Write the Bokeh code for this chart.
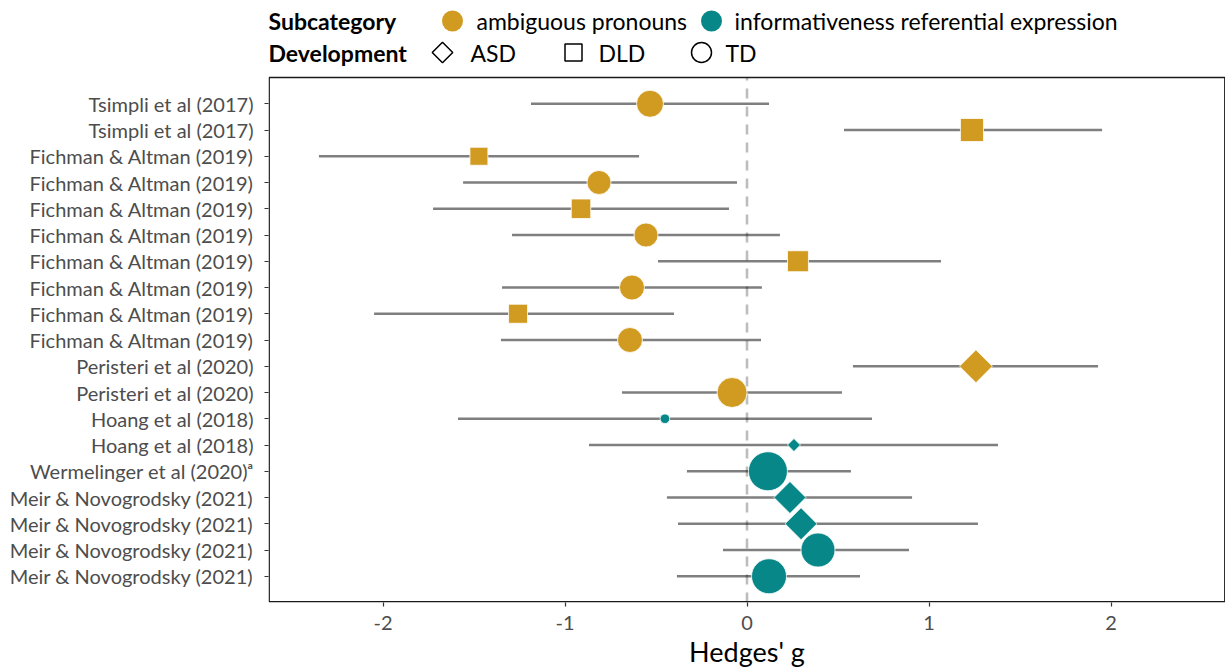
import numpy as np
from bokeh.plotting import figure
from bokeh.models import ColumnDataSource, FixedTicker, BoxAnnotation, Range1d
from bokeh.core.properties import value
from bokeh.embed import file_html
from bokeh.resources import INLINE

# ---------------- data (top row first) ----------------
studies = [
    "Tsimpli et al (2017)", "Tsimpli et al (2017)",
    "Fichman & Altman (2019)", "Fichman & Altman (2019)", "Fichman & Altman (2019)",
    "Fichman & Altman (2019)", "Fichman & Altman (2019)", "Fichman & Altman (2019)",
    "Fichman & Altman (2019)", "Fichman & Altman (2019)",
    "Peristeri et al (2020)", "Peristeri et al (2020)",
    "Hoang et al (2018)", "Hoang et al (2018)",
    "Wermelinger et al (2020)\u1d43",
    "Meir & Novogrodsky (2021)", "Meir & Novogrodsky (2021)",
    "Meir & Novogrodsky (2021)", "Meir & Novogrodsky (2021)",
]
subcategory = ["ambiguous pronouns"] * 12 + ["informativeness referential expression"] * 7
development = ["TD", "DLD", "DLD", "TD", "DLD", "TD", "DLD", "TD", "DLD", "TD",
               "ASD", "TD", "TD", "ASD", "TD", "ASD", "ASD", "TD", "TD"]
hedges_g = [-0.533, 1.236, -1.473, -0.813, -0.912, -0.555, 0.280, -0.632, -1.258, -0.643,
            1.258, -0.082, -0.451, 0.258, 0.115, 0.236, 0.297, 0.390, 0.121]
ci_low = [-1.187, 0.533, -2.352, -1.560, -1.725, -1.291, -0.489, -1.346, -2.049, -1.352,
          0.582, -0.687, -1.588, -0.868, -0.330, -0.440, -0.379, -0.132, -0.385]
ci_high = [0.121, 1.951, -0.593, -0.055, -0.099, 0.181, 1.066, 0.082, -0.401, 0.077,
           1.929, 0.522, 0.687, 1.379, 0.571, 0.907, 1.269, 0.890, 0.621]
weight = [18.2, 16.9, 10.3, 14.4, 12.1, 14.4, 14.0, 15.6, 11.5, 15.6,
          17.3, 22.5, 2.3, 2.7, 38.0, 16.3, 16.3, 28.9, 30.6]
x_ticks = [-2, -1, 0, 1, 2]
x_tick_labels = ["-2", "-1", "0", "1", "2"]
legend_subcats = ["ambiguous pronouns", "informativeness referential expression"]
legend_devs = ["ASD", "DLD", "TD"]

# ---------------- styles ----------------
GOLD = "#D09B20"
TEAL = "#078787"
sub_colors = {"ambiguous pronouns": GOLD, "informativeness referential expression": TEAL}
FONT = "Lato"

n = len(studies)
ypos = list(range(n, 0, -1))

# marker geometry (R pch 21/22/23 conventions)
def diam(w):
    return np.sqrt(40.0 * w)

markers, sizes, angles, colors = [], [], [], []
for d, w, s in zip(development, weight, subcategory):
    D = diam(w)
    colors.append(sub_colors[s])
    if d == "TD":
        markers.append("circle"); sizes.append(D); angles.append(0.0)
    elif d == "DLD":
        markers.append("square"); sizes.append(0.886 * D); angles.append(0.0)
    else:
        markers.append("square"); sizes.append(0.886 * D); angles.append(np.pi / 4)

src = ColumnDataSource(dict(y=ypos, g=hedges_g, lo=ci_low, hi=ci_high,
                            marker=markers, size=sizes, angle=angles, color=colors))

# ---------------- layout ----------------
FRAME_W, FRAME_H = 957, 595
PX_PER_UNIT_X = 182.0
PX_PER_ROW = 26.25
x_half = FRAME_W / 2 / PX_PER_UNIT_X
y_top = FRAME_H / PX_PER_ROW
BOX_TOP = n + 1
INSET = 0.7  # px, keeps the panel border inside the clipped frame

p = figure(frame_width=FRAME_W, frame_height=FRAME_H, output_backend="svg",
           toolbar_location=None, x_range=Range1d(-x_half, x_half),
           y_range=Range1d(0, y_top), min_border_left=268, min_border_right=0,
           min_border_top=7, min_border_bottom=0)
p.outline_line_color = None
p.xgrid.visible = False
p.ygrid.visible = False
p.background_fill_color = "white"
p.border_fill_color = "white"

# frame-relative pixel helpers (for the legend placed above the panel)
FRAME_LEFT_PAGE = 268
ZERO_PAGE = FRAME_LEFT_PAGE + FRAME_W / 2
BOX_BOTTOM_PAGE = 603
def px2x(px):
    return (px - ZERO_PAGE) / PX_PER_UNIT_X
def py2y(py):
    return (BOX_BOTTOM_PAGE - py) / PX_PER_ROW

# zero line
p.segment(x0=[0], y0=[0], x1=[0], y1=[BOX_TOP], line_color="#BDBDBD",
          line_width=2.6, line_dash="10 8")
# CIs
p.segment(x0="lo", y0="y", x1="hi", y1="y", source=src, line_color="black",
          line_alpha=0.5, line_width=2.3)
# points
p.scatter(x="g", y="y", marker="marker", size="size", angle="angle",
          fill_color="color", line_color="white", line_width=0.8, source=src)

# panel border
p.add_layout(BoxAnnotation(left=-x_half + INSET / PX_PER_UNIT_X,
                           right=x_half - INSET / PX_PER_UNIT_X,
                           bottom=INSET / PX_PER_ROW, top=BOX_TOP,
                           fill_alpha=0, line_color="#1A1A1A", line_alpha=1.0,
                           line_width=1.4))

# axes
p.xaxis.ticker = FixedTicker(ticks=x_ticks)
p.xaxis.major_label_overrides = {t: s for t, s in zip(x_ticks, x_tick_labels)}
p.yaxis.ticker = FixedTicker(ticks=ypos)
p.yaxis.major_label_overrides = {y: s for y, s in zip(ypos, studies)}
for ax in (p.xaxis[0], p.yaxis[0]):
    ax.axis_line_color = None
    ax.major_tick_line_color = "#333333"
    ax.major_tick_line_width = 1.2
    ax.major_tick_out = 4
    ax.major_tick_in = 0
    ax.minor_tick_line_color = None
    ax.major_label_text_font = FONT
    ax.major_label_text_font_size = "20px"
    ax.major_label_text_color = "#4D4D4D"
p.yaxis.major_label_standoff = 11
p.xaxis.major_label_standoff = 9
p.xaxis.axis_label = "Hedges' g"
p.xaxis.axis_label_text_font = FONT
p.xaxis.axis_label_text_font_size = "27px"
p.xaxis.axis_label_text_font_style = "normal"
p.xaxis.axis_label_text_color = "black"
p.xaxis.axis_label_standoff = 2

# ---------------- legend (drawn above the box) ----------------
LEG_FS = "23px"
row1, row2 = py2y(21.5), py2y(53)
p.text(x=[px2x(268), px2x(268)], y=[row1, row2], text=["Subcategory", "Development"],
       text_font=value(FONT), text_font_size=LEG_FS, text_font_style="bold",
       text_baseline="middle", text_align="left", text_color="black")
sub_mx = [px2x(452), px2x(711)]
sub_tx = [px2x(476), px2x(734)]
p.scatter(x=sub_mx, y=[row1, row1], marker="circle", size=21,
          fill_color=[sub_colors[s] for s in legend_subcats], line_color=None)
p.text(x=sub_tx, y=[row1, row1], text=legend_subcats, text_font=value(FONT),
       text_font_size=LEG_FS, text_baseline="middle", text_align="left", text_color="black")
dev_mx = [px2x(442), px2x(573), px2x(701)]
dev_tx = [px2x(470), px2x(598), px2x(725)]
p.scatter(x=dev_mx, y=[row2] * 3, marker=["square", "square", "circle"],
          size=[14.5, 17, 20], angle=[np.pi / 4, 0, 0], fill_color=None,
          line_color="black", line_width=1.5)
p.text(x=dev_tx, y=[row2] * 3, text=legend_devs, text_font=value(FONT),
       text_font_size=LEG_FS, text_baseline="middle", text_align="left", text_color="black")

open("out.html", "w").write(file_html(p, INLINE))
